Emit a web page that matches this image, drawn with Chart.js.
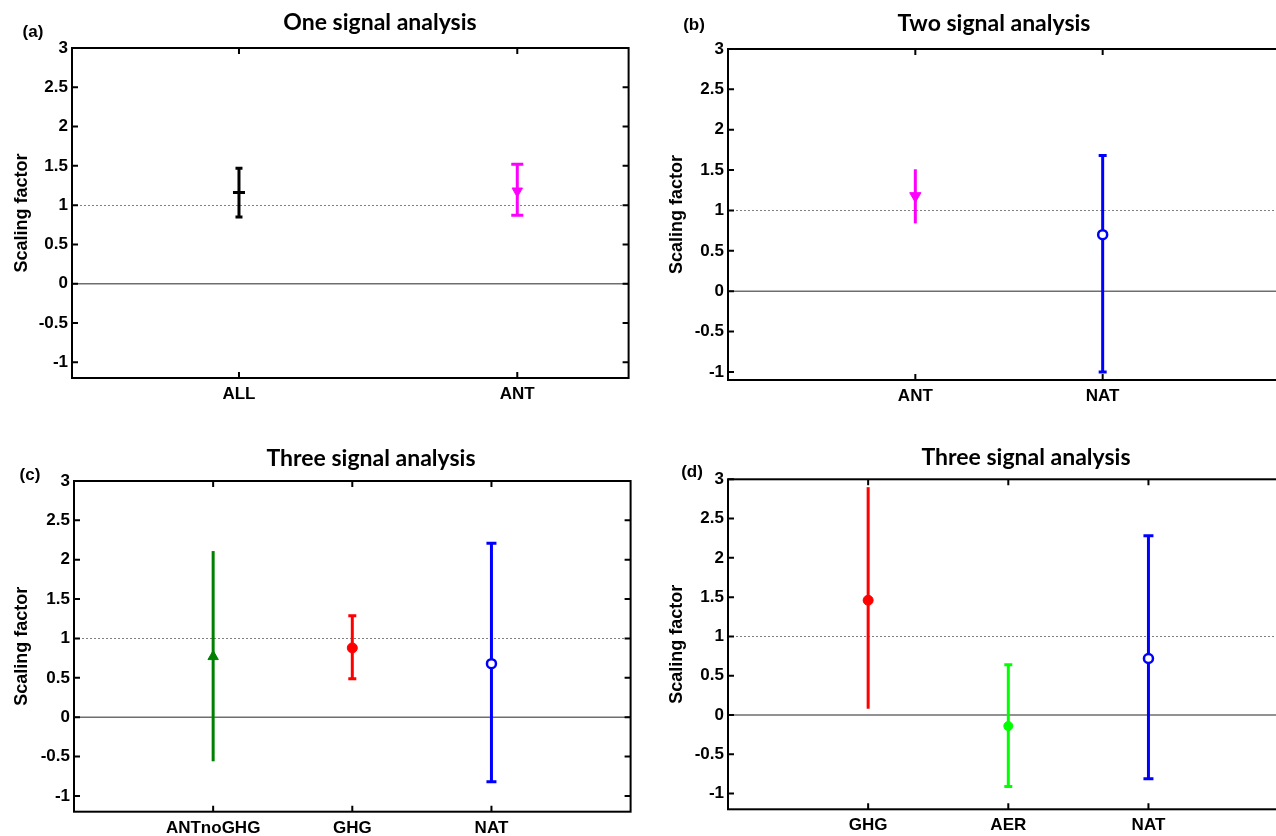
<!DOCTYPE html>
<html>
<head>
<meta charset="utf-8">
<script src="https://cdn.jsdelivr.net/npm/chart.js@4.4.1/dist/chart.umd.min.js"></script>
<style>
  html, body { margin: 0; padding: 0; background: #fff; }
  #wrap { position: relative; width: 1276px; height: 836px; overflow: hidden; }
  #wrap canvas { position: absolute; }
</style>
</head>
<body>
<div id="wrap">
  <canvas id="ca" width="640" height="410" style="left:0;top:0"></canvas>
  <canvas id="cb" width="680" height="410" style="left:655px;top:0"></canvas>
  <canvas id="cc" width="640" height="416" style="left:0;top:420px"></canvas>
  <canvas id="cd" width="680" height="416" style="left:655px;top:420px"></canvas>
</div>
<script>
// y tick labels shared by all four panels
const yTicks = [-1, -0.5, 0, 0.5, 1, 1.5, 2, 2.5, 3];

// (a) one signal analysis
const aCats = ['ALL', 'ANT'];
const aMid  = [1.16, 1.18];
const aLo   = [0.85, 0.87];
const aHi   = [1.47, 1.52];

// (b) two signal analysis
const bCats = ['ANT', 'NAT'];
const bMid  = [1.18, 0.70];
const bLo   = [0.84, -1.00];
const bHi   = [1.51, 1.68];

// (c) three signal analysis
const cCats = ['ANTnoGHG', 'GHG', 'NAT'];
const cMid  = [0.77, 0.88, 0.68];
const cLo   = [-0.56, 0.49, -0.82];
const cHi   = [2.11, 1.29, 2.21];

// (d) three signal analysis
const dCats = ['GHG', 'AER', 'NAT'];
const dMid  = [1.46, -0.14, 0.72];
const dLo   = [0.08, -0.91, -0.81];
const dHi   = [2.90, 0.64, 2.28];

(function(){
  'use strict';

  const FAMILY = '"Liberation Sans", Arial, sans-serif';
  const TICK_FONT  = { family: FAMILY, size: 17, weight: 'bold' };
  const TITLE_FONT = { family: FAMILY, size: 18, weight: 'bold' };

  function makePanel(id, p){
    const canvas = document.getElementById(id);
    const W = canvas.width, H = canvas.height;
    const A = p.area;

    // error bars, reference lines, frame and inward ticks
    const decor = {
      id: 'decor',
      beforeDatasetsDraw(chart){
        const ctx = chart.ctx, x = chart.scales.x, y = chart.scales.y, ca = chart.chartArea;
        ctx.save();
        // y = 1 dotted, y = 0 solid
        ctx.strokeStyle = '#808080'; ctx.lineWidth = 1;
        ctx.setLineDash([2, 2]);
        let py = Math.round(y.getPixelForValue(1)) + 0.5;
        ctx.beginPath(); ctx.moveTo(ca.left, py); ctx.lineTo(ca.right, py); ctx.stroke();
        ctx.setLineDash([]);
        ctx.strokeStyle = '#6e6e6e'; ctx.lineWidth = 1.5;
        py = y.getPixelForValue(0);
        ctx.beginPath(); ctx.moveTo(ca.left, py); ctx.lineTo(ca.right, py); ctx.stroke();

        // whiskers
        p.lo.forEach((lo, i) => {
          const px = x.getPixelForValue(i + 1);
          const yl = y.getPixelForValue(lo), yh = y.getPixelForValue(p.hi[i]);
          ctx.strokeStyle = p.colors[i]; ctx.lineWidth = 3; ctx.lineCap = 'butt';
          ctx.beginPath(); ctx.moveTo(px, yl); ctx.lineTo(px, yh); ctx.stroke();
          const c = p.caps[i];
          if(c){
            ctx.beginPath();
            ctx.moveTo(px - c, yl); ctx.lineTo(px + c, yl);
            ctx.moveTo(px - c, yh); ctx.lineTo(px + c, yh);
            ctx.stroke();
          }
        });
        ctx.restore();
      },
      afterDraw(chart){
        const ctx = chart.ctx, x = chart.scales.x, y = chart.scales.y, ca = chart.chartArea;
        ctx.save();
        ctx.strokeStyle = '#000'; ctx.lineWidth = 2;
        ctx.strokeRect(ca.left, ca.top, ca.right - ca.left, ca.bottom - ca.top);
        ctx.beginPath();
        yTicks.forEach(v => {
          const py = y.getPixelForValue(v);
          ctx.moveTo(ca.left, py); ctx.lineTo(ca.left + 6, py);
          ctx.moveTo(ca.right, py); ctx.lineTo(ca.right - 6, py);
        });
        p.cats.forEach((c, i) => {
          const px = x.getPixelForValue(i + 1);
          ctx.moveTo(px, ca.bottom); ctx.lineTo(px, ca.bottom - 6);
          ctx.moveTo(px, ca.top); ctx.lineTo(px, ca.top + 6);
        });
        ctx.stroke();

        // panel title and tag
        ctx.fillStyle = '#000';
        ctx.textAlign = 'center'; ctx.textBaseline = 'middle';
        ctx.font = 'bold 23px Lato, sans-serif';
        ctx.fillText(p.title, p.titlePos[0], p.titlePos[1]);
        ctx.font = 'bold 17px ' + FAMILY;
        ctx.fillText(p.tag, p.tagPos[0], p.tagPos[1]);
        ctx.restore();
      }
    };

    return new Chart(canvas, {
      type: 'scatter',
      data: {
        datasets: [{
          data: p.mid.map((v, i) => ({ x: i + 1, y: v })),
          showLine: false,
          pointStyle: p.markers,
          pointRotation: p.rotation,
          pointRadius: p.radius,
          pointBackgroundColor: p.fills,
          pointBorderColor: p.colors,
          pointBorderWidth: p.markerWidth
        }]
      },
      options: {
        responsive: false,
        animation: false,
        events: [],
        layout: { padding: { left: 0, top: A.top, right: W - A.right, bottom: 0 } },
        plugins: { legend: { display: false }, tooltip: { enabled: false } },
        scales: {
          x: {
            type: 'linear', min: p.xMin, max: p.xMax,
            grid: { display: false, drawTicks: false },
            border: { display: false },
            afterBuildTicks: s => { s.ticks = p.cats.map((c, i) => ({ value: i + 1 })); },
            afterFit: s => { s.height = H - A.bottom; },
            ticks: {
              padding: 6, color: '#000', font: TICK_FONT, maxRotation: 0, autoSkip: false,
              callback: v => p.cats[v - 1]
            }
          },
          y: {
            min: p.yMin, max: 3,
            grid: { display: false, drawTicks: false },
            border: { display: false },
            afterBuildTicks: s => { s.ticks = yTicks.map(v => ({ value: v })); },
            afterFit: s => { s.width = A.left; },
            ticks: { padding: 4, color: '#000', font: TICK_FONT, callback: v => String(v) },
            title: {
              display: true, text: 'Scaling factor', color: '#000',
              font: TITLE_FONT, padding: { top: 11, bottom: 0 }
            }
          }
        }
      },
      plugins: [decor]
    });
  }

  makePanel('ca', {
    cats: aCats, mid: aMid, lo: aLo, hi: aHi,
    title: 'One signal analysis', tag: '(a)',
    titlePos: [380, 23], tagPos: [33, 32],
    xMin: 0.4, xMax: 2.4, yMin: -1.2,
    area: { left: 72, top: 48, right: 628.6, bottom: 378 },
    colors: ['#000000', '#ff00ff'], fills: ['#000000', '#ff00ff'],
    markers: ['line', 'triangle'], rotation: [0, 180], radius: [6, 6], markerWidth: [3, 1],
    caps: [3.5, 6]
  });

  makePanel('cb', {
    cats: bCats, mid: bMid, lo: bLo, hi: bHi,
    title: 'Two signal analysis', tag: '(b)',
    titlePos: [339, 24], tagPos: [39, 25],
    xMin: 0, xMax: 3, yMin: -1.1,
    area: { left: 73, top: 49, right: 635, bottom: 380 },
    colors: ['#ff00ff', '#0000ff'], fills: ['#ff00ff', '#ffffff'],
    markers: ['triangle', 'circle'], rotation: [180, 0], radius: [6.5, 4.5], markerWidth: [1, 2.5],
    caps: [0, 4]
  });

  makePanel('cc', {
    cats: cCats, mid: cMid, lo: cLo, hi: cHi,
    title: 'Three signal analysis', tag: '(c)',
    titlePos: [371, 39], tagPos: [30, 55],
    xMin: 0, xMax: 4, yMin: -1.2,
    area: { left: 74, top: 61, right: 630.6, bottom: 391.7 },
    colors: ['#008000', '#ff0000', '#0000ff'], fills: ['#008000', '#ff0000', '#ffffff'],
    markers: ['triangle', 'circle', 'circle'], rotation: [0, 0, 0], radius: [6, 5, 4.5], markerWidth: [1, 1, 2.5],
    caps: [0, 4, 5]
  });

  makePanel('cd', {
    cats: dCats, mid: dMid, lo: dLo, hi: dHi,
    title: 'Three signal analysis', tag: '(d)',
    titlePos: [371, 38], tagPos: [37, 52],
    xMin: 0, xMax: 4, yMin: -1.2,
    area: { left: 73, top: 59.3, right: 633.6, bottom: 389.3 },
    colors: ['#ff0000', '#00ff00', '#0000ff'], fills: ['#ff0000', '#00ff00', '#ffffff'],
    markers: ['circle', 'circle', 'circle'], rotation: [0, 0, 0], radius: [5, 4.5, 4.5], markerWidth: [1, 1, 2.5],
    caps: [0, 4, 5]
  });
})();
</script>
</body>
</html>
